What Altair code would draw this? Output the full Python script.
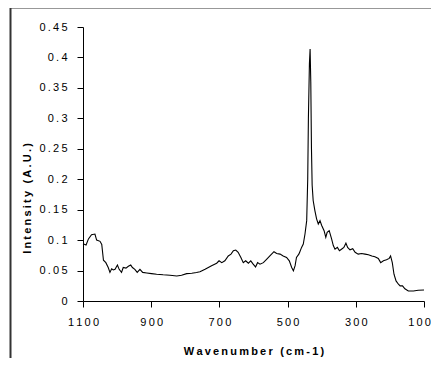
import altair as alt
import pandas as pd

wavenumber = [1100, 1091, 1084, 1075, 1065, 1060, 1050, 1045, 1040, 1033, 1026, 1021, 1016, 1011,
              1006, 999, 994, 987, 982, 974, 967, 960, 955, 948, 941, 933, 925, 913, 899, 884, 865,
              845, 825, 811, 796, 781, 767, 757, 742, 723, 708, 701, 693, 684, 674, 666, 659, 652,
              645, 637, 630, 623, 615, 608, 601, 594, 588, 581, 571, 561, 552, 540, 532, 522, 513,
              503, 495, 488, 483, 478, 474, 467, 464, 459, 454, 449, 444, 441, 439, 436, 434, 432,
              430, 428, 425, 420, 415, 410, 405, 400, 393, 388, 384, 378, 371, 366, 361, 354, 348,
              342, 335, 329, 324, 317, 309, 302, 293, 283, 273, 263, 253, 244, 234, 227, 219, 210,
              202, 198, 193, 188, 182, 175, 170, 163, 156, 146, 131, 117, 100]
intensity = [0.094, 0.092, 0.102, 0.109, 0.110, 0.100, 0.098, 0.093, 0.067, 0.063, 0.055, 0.047,
             0.053, 0.051, 0.052, 0.059, 0.052, 0.047, 0.055, 0.054, 0.057, 0.059, 0.055, 0.052,
             0.047, 0.052, 0.047, 0.046, 0.045, 0.044, 0.043, 0.0424, 0.041, 0.0424, 0.045, 0.0457,
             0.0467, 0.048, 0.052, 0.058, 0.062, 0.066, 0.063, 0.066, 0.074, 0.077, 0.0825, 0.0837,
             0.080, 0.0715, 0.063, 0.066, 0.062, 0.066, 0.0605, 0.056, 0.063, 0.0605, 0.063, 0.0688,
             0.074, 0.081, 0.078, 0.077, 0.074, 0.0715, 0.066, 0.055, 0.0495, 0.058, 0.0715, 0.077,
             0.081, 0.088, 0.0935, 0.110, 0.132, 0.20, 0.30, 0.39, 0.414, 0.36, 0.25, 0.19, 0.165,
             0.1485, 0.135, 0.1265, 0.132, 0.124, 0.1155, 0.1045, 0.1127, 0.1155, 0.102, 0.091,
             0.085, 0.088, 0.0825, 0.085, 0.088, 0.095, 0.088, 0.084, 0.086, 0.080, 0.077, 0.078,
             0.077, 0.076, 0.074, 0.0726, 0.070, 0.063, 0.066, 0.0676, 0.070, 0.074, 0.063, 0.044,
             0.033, 0.0275, 0.0248, 0.0248, 0.020, 0.0165, 0.0165, 0.0176, 0.018]

x_ticks = [1100, 900, 700, 500, 300, 100]
y_ticks = [0, 0.05, 0.1, 0.15, 0.2, 0.25, 0.3, 0.35, 0.4, 0.45]

x_title = "Wavenumber (cm-1)"
y_title = "Intensity (A.U.)"

HS = "\u2009"


def spaced(s):
    return HS.join(list(s))


df = pd.DataFrame({"w": wavenumber, "v": intensity})

FONT = "Liberation Sans"

line = alt.Chart(df).mark_line(color="black", strokeWidth=1.1).encode(
    x=alt.X("w:Q", scale=alt.Scale(domain=[1100, 100], nice=False),
            axis=alt.Axis(values=x_ticks, title=spaced(x_title),
                          labelExpr="join(split(format(datum.value, 'd'), ''), '\u2009')",
                          labelOffset={"condition": {"test": "datum.value == 100", "value": -5},
                                       "value": 0},
                          grid=False, domainColor="black", tickColor="black",
                          tickSize=6, labelPadding=9, labelFontSize=11, labelFont=FONT,
                          labelColor="black", titleFont=FONT, titleFontSize=11,
                          titleFontWeight="bold", titleColor="black",
                          titleBaseline="middle", titleY=50, labelFlush=False)),
    y=alt.Y("v:Q", scale=alt.Scale(domain=[0, 0.45], nice=False),
            axis=alt.Axis(values=y_ticks, title=spaced(y_title),
                          labelExpr="join(split(format(datum.value, '~g'), ''), '\u2009')",
                          grid=False, domainColor="black", tickColor="black",
                          tickSize=6, labelPadding=10, labelFontSize=11, labelFont=FONT,
                          labelColor="black", titleFont=FONT, titleFontSize=11,
                          titleFontWeight="bold", titleColor="black",
                          titleAngle=-90, titleBaseline="middle", titleAlign="center",
                          titleX=-56, titleY=171, labelFlush=False)),
)

frame = alt.Chart(pd.DataFrame({"a": [0]})).mark_rect(
    fill="transparent", stroke="#333333", strokeWidth=2
).encode(
    x=alt.value(-72.5), x2=alt.value(700), y=alt.value(-19.5), y2=alt.value(700)
)

chart = alt.layer(frame, line).properties(
    width=341, height=274,
    autosize=alt.AutoSizeParams(type="none"),
    padding={"left": 75, "top": 19, "right": 7, "bottom": 57},
).configure_view(stroke=None)

chart.save("out.html", embed_options={"renderer": "svg", "actions": False})
